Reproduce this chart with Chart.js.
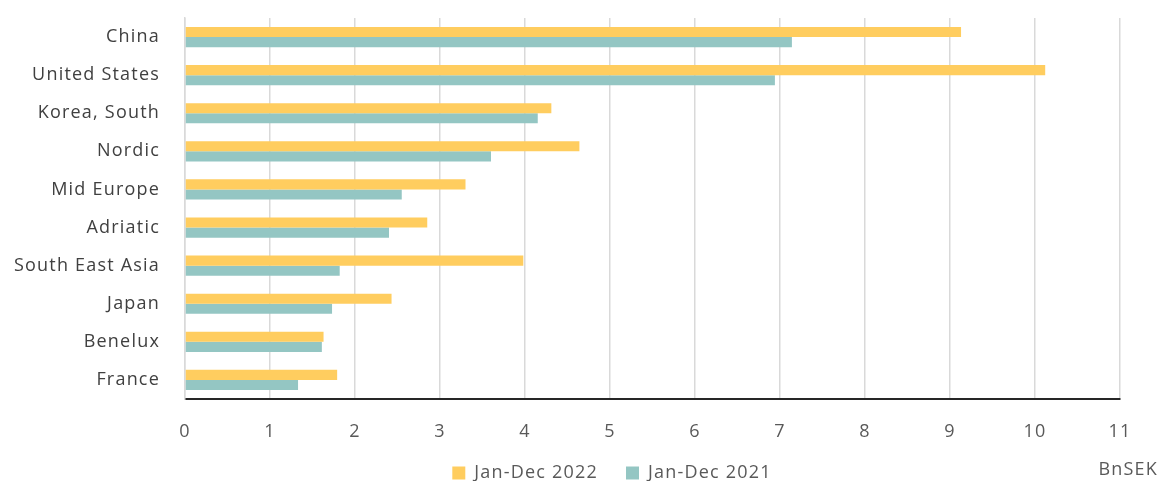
<!DOCTYPE html>
<html>
<head>
<meta charset="utf-8">
<script src="https://cdn.jsdelivr.net/npm/chart.js@4/dist/chart.umd.min.js"></script>
<style>
  html, body { margin: 0; padding: 0; background: #fff; overflow: hidden; }
  #wrap { width: 1159px; height: 481px; }
</style>
</head>
<body>
<div id="wrap"><canvas id="chart"></canvas></div>
<script>
// regions, values in BnSEK
const categories = ['China', 'United States', 'Korea, South', 'Nordic', 'Mid Europe',
  'Adriatic', 'South East Asia', 'Japan', 'Benelux', 'France'];
const sales2022 = [9.13, 10.12, 4.31, 4.64, 3.30, 2.85, 3.98, 2.43, 1.63, 1.79];
const sales2021 = [7.14, 6.94, 4.15, 3.60, 2.55, 2.40, 1.82, 1.73, 1.61, 1.33];
const seriesNames = ['Jan-Dec 2022', 'Jan-Dec 2021'];
const xTicks = [0, 1, 2, 3, 4, 5, 6, 7, 8, 9, 10, 11];
const unitLabel = 'BnSEK';

const FONT = '"Open Sans", "Noto Sans", sans-serif';
Chart.defaults.font.family = FONT;
Chart.defaults.color = '#595959';

// wider letter spacing to get closer to the office look; canvas resets it on resize
const spacing = {
  id: 'spacing',
  beforeLayout(chart) { chart.ctx.letterSpacing = '1.2px'; },
  beforeDraw(chart) { chart.ctx.letterSpacing = '1.2px'; }
};

// legend sits lower and right of centre, unit text at far right
const legendAndUnit = {
  id: 'legendAndUnit',
  afterLayout(chart) {
    const lg = chart.legend;
    const h = lg.height;
    lg.top = 436;
    lg.bottom = lg.top + h;
    lg.left += 52;
    lg.right += 52;
  },
  afterDraw(chart) {
    const ctx = chart.ctx;
    ctx.save();
    ctx.font = '18px ' + FONT;
    ctx.fillStyle = '#595959';
    ctx.textAlign = 'right';
    ctx.textBaseline = 'middle';
    ctx.fillText(unitLabel, 1158, 470);
    ctx.restore();
  }
};

new Chart(document.getElementById('chart'), {
  type: 'bar',
  data: {
    labels: categories,
    datasets: [
      { label: seriesNames[0], data: sales2022, backgroundColor: '#FFCD5F' },
      { label: seriesNames[1], data: sales2021, backgroundColor: '#94C6C3' }
    ]
  },
  options: {
    indexAxis: 'y',
    responsive: true,
    maintainAspectRatio: false,
    animation: false,
    categoryPercentage: 0.53,
    barPercentage: 1,
    layout: { padding: { top: 18, right: 39, bottom: -24, left: 0 } },
    plugins: {
      legend: {
        position: 'bottom',
        labels: { boxWidth: 13, boxHeight: 13, padding: 28, color: '#595959', font: { size: 18 } }
      },
      tooltip: { enabled: false }
    },
    scales: {
      x: {
        min: 0,
        max: 11,
        afterBuildTicks(scale) { scale.ticks = xTicks.map(v => ({ value: v })); },
        afterFit(scale) { scale.height = 50; },
        grid: { color: '#d9d9d9', lineWidth: 1.5, drawTicks: false },
        border: { color: '#262626', width: 2 },
        ticks: { padding: 22, font: { size: 18 }, color: '#595959' }
      },
      y: {
        afterFit(scale) {
          scale.width = 185;
          scale.paddingTop = 0;
          scale.paddingBottom = 0;
        },
        grid: { display: false, drawTicks: false },
        border: { color: '#d9d9d9', width: 1.5 },
        ticks: { padding: 25, font: { size: 18 }, color: '#404040' }
      }
    }
  },
  plugins: [spacing, legendAndUnit]
});
</script>
</body>
</html>
